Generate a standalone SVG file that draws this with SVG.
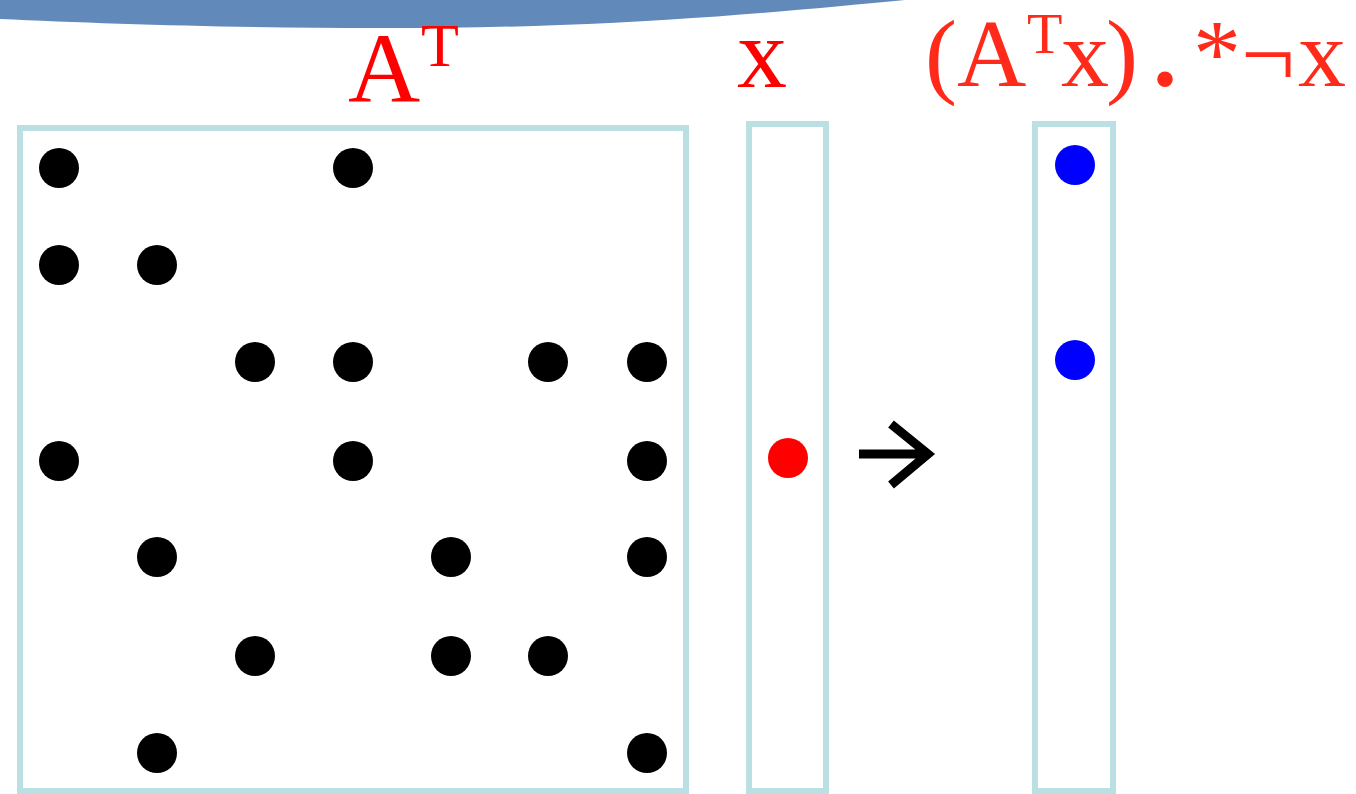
<svg xmlns="http://www.w3.org/2000/svg" width="1356" height="794" viewBox="0 0 1356 794">
<style>
.box{fill:none;stroke:#bbe0e3;stroke-width:6}
.dot{fill:#000}
text{font-family:'Liberation Serif','Times New Roman',Times,serif}
.lbl{fill:#ff0000}
.lbl2{fill:#ff2a1a}
</style>
<rect width="1356" height="794" fill="#fff"/>
<path id="banner" d="M0,0 V19 C150,26 380,32 560,25 C700,20 820,8 905,0 Z" fill="#6189b9"/>
<g id="labels">
<text class="lbl" x="348" y="102" font-size="100"><tspan>A</tspan><tspan x="421" y="66" font-size="62">T</tspan></text>
<text class="lbl" x="737" y="87" font-size="100">x</text>
<text class="lbl2" font-size="96" y="86"><tspan x="925">(</tspan><tspan x="957">A</tspan><tspan x="1027" y="53" font-size="58">T</tspan><tspan x="1061" y="86">x</tspan><tspan x="1106">)</tspan><tspan x="1153" font-weight="bold">.</tspan><tspan x="1193">*</tspan><tspan x="1241">¬</tspan><tspan x="1298">x</tspan></text>
</g>
<g id="matrix-AT">
<rect class="box" x="20" y="128" width="666" height="663"/>
<circle class="dot" cx="59" cy="168" r="20"/>
<circle class="dot" cx="353" cy="168" r="20"/>
<circle class="dot" cx="59" cy="265" r="20"/>
<circle class="dot" cx="157" cy="265" r="20"/>
<circle class="dot" cx="255" cy="362" r="20"/>
<circle class="dot" cx="353" cy="362" r="20"/>
<circle class="dot" cx="548" cy="362" r="20"/>
<circle class="dot" cx="647" cy="362" r="20"/>
<circle class="dot" cx="59" cy="461" r="20"/>
<circle class="dot" cx="353" cy="461" r="20"/>
<circle class="dot" cx="647" cy="461" r="20"/>
<circle class="dot" cx="157" cy="557" r="20"/>
<circle class="dot" cx="451" cy="557" r="20"/>
<circle class="dot" cx="647" cy="557" r="20"/>
<circle class="dot" cx="255" cy="656" r="20"/>
<circle class="dot" cx="451" cy="656" r="20"/>
<circle class="dot" cx="548" cy="656" r="20"/>
<circle class="dot" cx="157" cy="753" r="20"/>
<circle class="dot" cx="647" cy="753" r="20"/>
</g>
<g id="vector-x">
<rect class="box" x="749" y="124" width="77" height="667"/>
<circle cx="788" cy="458" r="20" fill="#ff0000"/>
</g>
<g id="connectors">
<path d="M859,454 H926 M891,424 L928,454 L891,485" fill="none" stroke="#000" stroke-width="9"/>
</g>
<g id="vector-result">
<rect class="box" x="1035" y="124" width="78" height="667"/>
<circle cx="1075" cy="165" r="20" fill="#0000ff"/>
<circle cx="1075" cy="360" r="20" fill="#0000ff"/>
</g>
</svg>
